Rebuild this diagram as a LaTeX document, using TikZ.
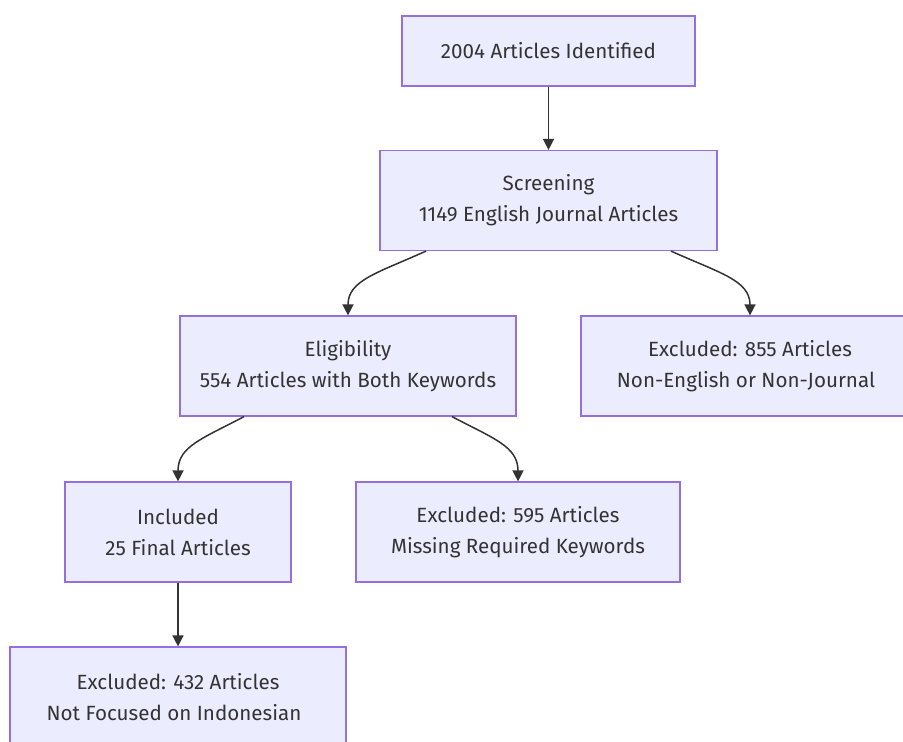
\documentclass[tikz,border=0pt]{standalone}
\usepackage{fontspec}
\setmainfont{Fira Sans}
\usetikzlibrary{arrows.meta}

\begin{document}
\begin{tikzpicture}[x=1pt,y=-1pt,
  stagebox/.style={draw=boxline,fill=boxfill,line width=1.2pt,text=ink,align=center,
    inner sep=0pt,minimum height=100pt,font=\fontsize{20.6}{31}\selectfont},
  flow/.style={draw=ink,line width=1.5pt,-{Triangle[length=11pt,width=11pt]}}]
\definecolor{boxfill}{HTML}{ECECFF}
\definecolor{boxline}{HTML}{9370DB}
\definecolor{ink}{HTML}{333333}
\useasboundingbox (0,0) rectangle (903,742);
\clip (0,0) rectangle (903,742);
% boxes
\node[stagebox,minimum width=293pt,minimum height=70pt] (ident) at (548.5,51) {2004 Articles Identified};
\node[stagebox,minimum width=337pt] (screen) at (548.5,200.5) {Screening\\1149 English Journal Articles};
\node[stagebox,minimum width=336pt] (elig) at (348,366) {Eligibility\\554 Articles with Both Keywords};
\node[stagebox,minimum width=338pt] (excl1) at (750,366) {Excluded: 855 Articles\\Non-English or Non-Journal\hspace*{8pt}};
\node[stagebox,minimum width=226pt] (incl) at (178,532) {Included\\25 Final Articles};
\node[stagebox,minimum width=324pt] (excl2) at (518,532) {Excluded: 595 Articles\\Missing Required Keywords};
\node[stagebox,minimum width=336pt] (excl3) at (178,697) {Excluded: 432 Articles\\Not Focused on Indonesian\hspace*{8pt}};
% arrows
\draw[flow] (ident) -- (screen);
\draw[flow] (incl) -- (excl3);
\foreach \src/\dx/\dst in {screen/-122.5/elig,screen/122.5/excl1,elig/-104/incl,elig/104/excl2}
  {\draw[flow] ([xshift=\dx pt]\src.south) .. controls +({0.4*\dx},22) and +(0,-35) .. (\dst.north);}
\end{tikzpicture}
\end{document}
